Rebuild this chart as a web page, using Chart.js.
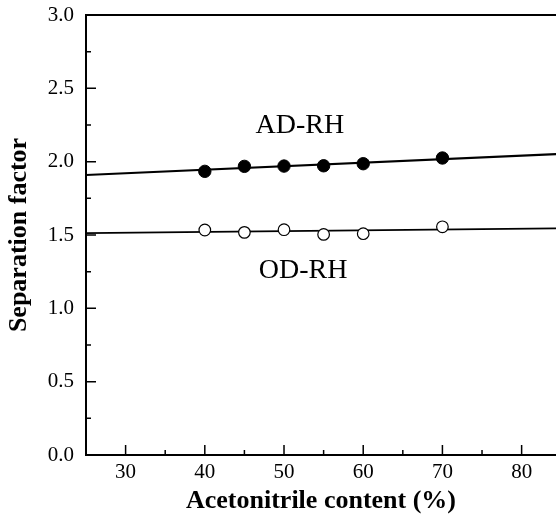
<!DOCTYPE html>
<html>
<head>
<meta charset="utf-8">
<script src="https://cdn.jsdelivr.net/npm/chart.js@4/dist/chart.umd.min.js"></script>
<style>
  html, body { margin: 0; padding: 0; background: #fff; }
  #wrap { width: 556px; height: 517px; position: relative; }
</style>
</head>
<body>
<div id="wrap"><canvas id="c" width="556" height="517"></canvas></div>
<script>
// ---- Data ----
const acetonitrile = [40, 45, 50, 55, 60, 70];
const adRH = [1.934, 1.968, 1.970, 1.972, 1.986, 2.025];
const odRH = [1.534, 1.518, 1.536, 1.504, 1.509, 1.556];
// fitted regression lines (endpoints in data units)
const adFitX = [25, 85];
const adFitY = [1.909, 2.053];
const odFitX = [25, 85];
const odFitY = [1.513, 1.545];
// tick labels
const xTicks = [30, 40, 50, 60, 70, 80];
const xMinorTicks = [35, 45, 55, 65, 75];
const yTicks = [0.0, 0.5, 1.0, 1.5, 2.0, 2.5, 3.0];
const yMinorTicks = [0.25, 0.75, 1.25, 1.75, 2.25, 2.75];
// in-plot text labels
const seriesLabels = ['AD-RH', 'OD-RH'];
const seriesLabelX = [52.0, 52.4];
const seriesLabelY = [2.243, 1.255];

const toPts = (xs, ys) => xs.map((x, i) => ({ x: x, y: ys[i] }));

const innerTicks = {
  id: 'innerTicks',
  afterDraw(chart) {
    const { ctx, chartArea: a, scales: { x, y } } = chart;
    ctx.save();
    ctx.strokeStyle = '#000';
    ctx.lineWidth = 1.5;
    ctx.beginPath();
    xTicks.forEach(v => { const p = x.getPixelForValue(v); ctx.moveTo(p, a.bottom); ctx.lineTo(p, a.bottom - 10); });
    xMinorTicks.forEach(v => { const p = x.getPixelForValue(v); ctx.moveTo(p, a.bottom); ctx.lineTo(p, a.bottom - 5); });
    yTicks.forEach(v => { const p = y.getPixelForValue(v); ctx.moveTo(a.left, p); ctx.lineTo(a.left + 10, p); });
    yMinorTicks.forEach(v => { const p = y.getPixelForValue(v); ctx.moveTo(a.left, p); ctx.lineTo(a.left + 5, p); });
    ctx.stroke();
    // top frame line
    ctx.lineWidth = 2;
    ctx.beginPath();
    ctx.moveTo(a.left, a.top);
    ctx.lineTo(a.right, a.top);
    ctx.stroke();
    // series labels
    ctx.fillStyle = '#000';
    ctx.font = '28px "Liberation Serif"';
    ctx.textAlign = 'center';
    ctx.textBaseline = 'middle';
    seriesLabels.forEach((t, i) => {
      ctx.fillText(t, x.getPixelForValue(seriesLabelX[i]), y.getPixelForValue(seriesLabelY[i]));
    });
    ctx.restore();
  }
};

new Chart(document.getElementById('c'), {
  type: 'scatter',
  data: {
    datasets: [
      { data: toPts(adFitX, adFitY), showLine: true, borderColor: '#000', borderWidth: 2, pointRadius: 0, order: 3 },
      { data: toPts(odFitX, odFitY), showLine: true, borderColor: '#000', borderWidth: 1.8, pointRadius: 0, order: 3 },
      { data: toPts(acetonitrile, adRH), showLine: false, pointRadius: 6.2, pointBackgroundColor: '#000', pointBorderColor: '#000', pointBorderWidth: 1, order: 1 },
      { data: toPts(acetonitrile, odRH), showLine: false, pointRadius: 5.8, pointBackgroundColor: '#fff', pointBorderColor: '#000', pointBorderWidth: 1.2, order: 1 }
    ]
  },
  options: {
    responsive: false,
    animation: false,
    layout: { autoPadding: false, padding: { top: 15, right: 0, left: 0, bottom: 0 } },
    plugins: { legend: { display: false }, tooltip: { enabled: false } },
    scales: {
      x: {
        type: 'linear',
        min: 25,
        max: 84.34,
        afterBuildTicks: s => { s.ticks = xTicks.map(v => ({ value: v })); },
        afterFit: s => { s.height = 62; s.paddingLeft = 0; s.paddingRight = 0; },
        grid: { display: false, drawTicks: false },
        border: { display: true, color: '#000', width: 2 },
        ticks: { padding: 5, color: '#000', font: { family: 'Liberation Serif', size: 21 }, maxRotation: 0, autoSkip: false },
        title: { display: true, text: 'Acetonitrile content (%)', color: '#000', font: { family: 'Liberation Serif', size: 26, weight: 'bold' }, padding: { top: 0, bottom: 0 } }
      },
      y: {
        type: 'linear',
        min: 0,
        max: 3.0,
        afterBuildTicks: s => { s.ticks = yTicks.map(v => ({ value: v })); },
        afterFit: s => { s.width = 86; s.paddingTop = 0; s.paddingBottom = 0; },
        grid: { display: false, drawTicks: false },
        border: { display: true, color: '#000', width: 2 },
        ticks: { padding: 12, color: '#000', font: { family: 'Liberation Serif', size: 21 }, callback: v => v.toFixed(1) },
        title: { display: true, text: 'Separation factor', color: '#000', font: { family: 'Liberation Serif', size: 26, weight: 'bold' }, padding: { top: 4, bottom: 0 } }
      }
    }
  },
  plugins: [innerTicks]
});
</script>
</body>
</html>
